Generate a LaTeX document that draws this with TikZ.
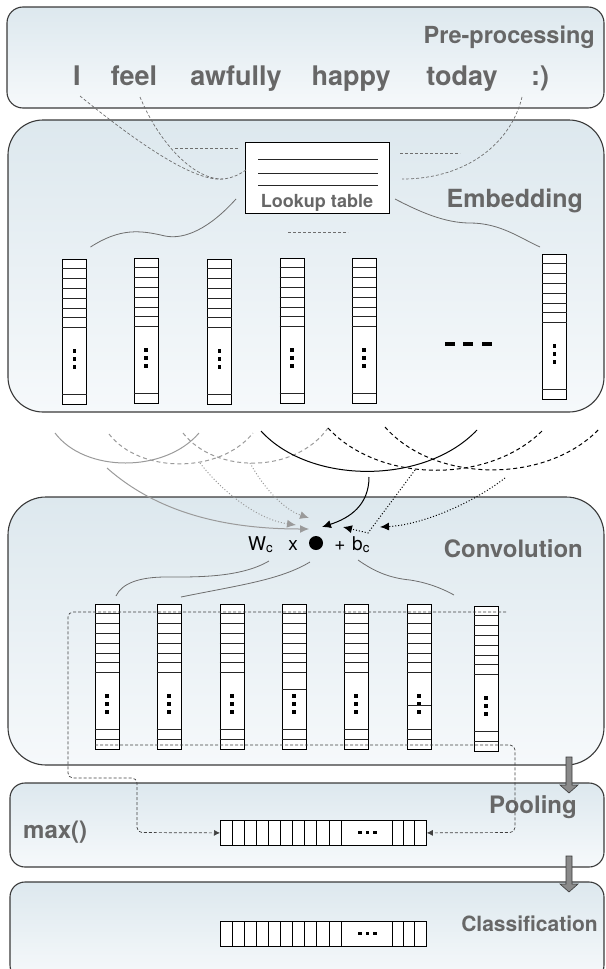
\documentclass[tikz,border=0pt]{standalone}
\usepackage{fontspec}
\setmainfont{TeX Gyre Heros}
\usetikzlibrary{arrows.meta}

\definecolor{boxline}{HTML}{3A3A3A}
\definecolor{paneltop}{HTML}{DDE8EE}
\definecolor{panelbot}{HTML}{F6F9FB}
\definecolor{labelgrey}{HTML}{676767}
\definecolor{curvegrey}{HTML}{6E6E6E}
\definecolor{arcgrey}{HTML}{9A9A9A}
\definecolor{blockgrey}{HTML}{8A8A8A}

\tikzset{
  panel/.style={draw=boxline, line width=1.1pt, top color=paneltop, bottom color=panelbot},
  title/.style={font=\bfseries\fontsize{24}{28}\selectfont, text=labelgrey, inner sep=0pt},
  word/.style={font=\bfseries\fontsize{27}{31}\selectfont, text=labelgrey, inner sep=0pt, anchor=base},
  formula/.style={font=\fontsize{19}{22}\selectfont, text=black, inner sep=0pt},
  colbox/.style={draw=black, fill=white, line width=0.8pt, minimum width=24pt, inner sep=0pt},
  cellline/.style={line width=0.8pt, draw=black!85},
  lookdash/.style={draw=curvegrey, line width=0.7pt, dash pattern=on 3pt off 2pt},
  softcurve/.style={draw=curvegrey, line width=0.8pt},
  greyarc/.style={draw=arcgrey, line width=1pt},
  greyarcdash/.style={draw=arcgrey, line width=1pt, dash pattern=on 4pt off 3pt},
  blackarc/.style={draw=black, line width=1pt},
  blackarcdash/.style={draw=black, line width=1pt, dash pattern=on 4pt off 3pt},
  greytip/.style={-{Latex[length=9pt,width=8pt]}, arcgrey},
  blacktip/.style={-{Latex[length=9pt,width=8pt]}, black},
  poolconn/.style={draw=black!75, line width=0.7pt, dash pattern=on 3pt off 2pt,
    rounded corners=5pt, -{Latex[length=6pt,width=6pt]}},
  blockarrow/.style={fill=blockgrey, draw=boxline, line width=0.6pt},
}

% one vector column: name, x centre, top y, height, number of bottom cells
\newcommand{\vectorcolumn}[5]{%
  \node[colbox, minimum height=#4pt, anchor=north] (#1) at (#2,#3) {};
  \foreach \o in {9,19,29,39,49,58,68}
    \draw[cellline] ([yshift=-\o pt]#1.north west) -- ([yshift=-\o pt]#1.north east);
  \foreach \b in {1,...,#5}
    \draw[cellline] ([yshift=\b*10pt]#1.south west) -- ([yshift=\b*10pt]#1.south east);
  \foreach \o in {92,100,108}
    \fill ([yshift=-\o pt]#1.north) ++(-1.7,-1.7) rectangle ++(3.4,3.4);
}

% horizontal feature vector with narrow cells and an ellipsis cell
\newcommand{\featurevector}[2]{% name, top y
  \node[draw=black, fill=white, line width=0.8pt, minimum width=206pt, minimum height=25pt,
        inner sep=0pt, anchor=north west] (#1) at (220,#2) {};
  \foreach \xx in {232.1,244.2,256.3,268.4,280.5,292.6,304.7,316.8,328.9,341,392,403.3,414.7}
    \draw[line width=0.8pt] (\xx,#2) -- (\xx,#2+25);
  \foreach \xx in {360,367.5,375}
    \fill (\xx,#2+12.5) ++(-1.7,-1.7) rectangle ++(3.4,3.4);
}

\begin{document}
\begin{tikzpicture}[x=1pt,y=-1pt]
\useasboundingbox (0,0) rectangle (605,969);
\clip (0,0) rectangle (605,969);

% ---------------- panels ----------------
\draw[panel, rounded corners=16pt] (7,7) rectangle (604,108);
\draw[panel, rounded corners=35pt] (8,120) rectangle (604,412);
\draw[panel, rounded corners=38pt] (8,497) rectangle (604,765);
\draw[panel, rounded corners=15pt] (10,783) rectangle (604,867);
\draw[panel, rounded corners=15pt] (10,882) rectangle (604,980);

% ---------------- pre-processing ----------------
\node[title, font=\bfseries\fontsize{23.5}{27}\selectfont, anchor=base east] (tPre) at (595,43) {Pre-processing};
\node[word] (wI) at (77,85) {I};
\node[word] (wFeel) at (134,85) {feel};
\node[word] (wAwf) at (236,85) {awfully};
\node[word] (wHappy) at (351,85) {happy};
\node[word] (wToday) at (462,85) {today};
\node[word] (wSmile) at (540,85) {:)};

% ---------------- embedding ----------------
\node[title, font=\bfseries\fontsize{25}{29}\selectfont, anchor=base east] (tEmb) at (583,207) {Embedding};

\node[draw=black, fill=white, line width=0.8pt, minimum width=144pt, minimum height=71pt,
      inner sep=0pt, anchor=north west] (lut) at (245,142) {};
\foreach \yy in {159,173,185}
  \draw[line width=1pt, black!85] (258,\yy) -- (378,\yy);
\node[font=\bfseries\fontsize{18}{21}\selectfont, text=labelgrey, inner sep=0pt, anchor=base]
  (lutText) at (317,207) {Lookup table};

\coordinate (iStart) at (80,96);
\coordinate (feelStart) at (140,97);
\coordinate (smileStart) at (522,97);
\coordinate (lutIn) at (246,170);
\coordinate (lutInR) at (402,179);
\coordinate (merge) at (223,179);

\draw[lookdash] (iStart) .. controls (140,145) and (195,182) .. (merge)
  .. controls (233,178) and (240,174) .. (lutIn);
\draw[lookdash] (feelStart) .. controls (160,145) and (195,180) .. (merge);
\draw[lookdash] (smileStart) .. controls (512,140) and (470,179) .. (lutInR);
\draw[lookdash] (175,148) -- (238,148);
\draw[lookdash] (400,153) -- (460,153);
\draw[lookdash] (288,232) -- (348,232);

\vectorcolumn{e1}{74.5}{259}{145}{1}
\vectorcolumn{e2}{146}{258}{145}{1}
\vectorcolumn{e3}{219.5}{259}{145}{1}
\vectorcolumn{e4}{292}{258}{145}{1}
\vectorcolumn{e5}{364}{258}{145}{1}
\vectorcolumn{e6}{554.5}{254}{145}{1}

\draw[softcurve] (236,199) .. controls (210,228) and (185,240) .. (165,236)
  .. controls (140,230) and (120,228) .. ([xshift=16pt,yshift=12pt]e1.north);
\draw[softcurve] (395,199) .. controls (420,212) and (445,223) .. (470,223)
  .. controls (500,223) and (520,238) .. ([xshift=-14.5pt,yshift=7pt]e6.north);

\foreach \xx in {445,463,482}
  \draw[line width=3.6pt] (\xx,344) -- ++(10,0);

% ---------------- sliding windows ----------------
\coordinate (aL) at (55,433);   \coordinate (aR) at (199,433);
\coordinate (bL) at (109,434);  \coordinate (bR) at (253,433);
\coordinate (cL) at (183,433);  \coordinate (cR) at (328,428);
\coordinate (dL) at (261,431);  \coordinate (dR) at (477,430);
\coordinate (fL) at (385,427);  \coordinate (fR) at (600,428);
\coordinate (gR) at (543,430);

\draw[greyarc] (aL) .. controls (85,473) and (165,473) .. (aR);
\draw[greyarcdash] (bL) .. controls (140,474) and (220,474) .. (bR);
\draw[greyarcdash] (cL) .. controls (215,474) and (295,474) .. (cR);
\draw[blackarc] (dL) .. controls (310,485) and (425,485) .. (dR);
\draw[blackarcdash] (cR) .. controls (380,484) and (490,484) .. (gR);
\draw[blackarcdash] (fL) .. controls (435,484) and (548,484) .. (fR);

% ---------------- convolution ----------------
\node[title, anchor=base east] (tConv) at (583,557) {Convolution};

\node[formula, anchor=base west] (wc) at (248,550) {W\textsubscript{c}};
\node[formula, anchor=base] (times) at (293,550) {x};
\node[circle, fill=black, minimum size=14pt, inner sep=0pt] (dot) at (316,543) {};
\node[formula, anchor=base] (plus) at (340,550) {+};
\node[formula, anchor=base west] (bc) at (352,550) {b\textsubscript{c}};

\coordinate (g1s) at (107,468);  \coordinate (g1e) at (309,529);
\coordinate (g2s) at (200,463);  \coordinate (g2e) at (296,525);
\coordinate (g3s) at (250,463);  \coordinate (g3e) at (309,518);
\coordinate (k1s) at (369,477);  \coordinate (k1e) at (322,527);
\coordinate (k2s) at (415,470);  \coordinate (k2m) at (368,533);  \coordinate (k2e) at (343,527);
\coordinate (k3s) at (505,478);  \coordinate (k3e) at (380,527);

\draw[greyarc, greytip] (g1s) .. controls (160,515) and (230,529) .. (g1e);
\draw[arcgrey, line width=1pt, dotted, greytip] (g2s) .. controls (225,495) and (260,520) .. (g2e);
\draw[arcgrey, line width=1pt, dotted, greytip] (g3s) .. controls (265,490) and (285,510) .. (g3e);
\draw[blackarc, blacktip] (k1s) .. controls (369,505) and (350,518) .. (k1e);
\draw[black, line width=1pt, dotted, blacktip] (k2s) -- (k2m) -- (k2e);
\draw[black, line width=1pt, dotted, blacktip] (k3s) .. controls (470,505) and (420,525) .. (k3e);

\vectorcolumn{c1}{107}{604}{145}{2}
\vectorcolumn{c2}{169}{604}{145}{2}
\vectorcolumn{c3}{232}{604}{145}{2}
\vectorcolumn{c4}{294}{604}{145}{2}
\vectorcolumn{c5}{356}{604}{145}{2}
\vectorcolumn{c6}{419}{604}{145}{2}
\vectorcolumn{c7}{486}{606}{145}{2}
\draw[cellline] ([yshift=-85pt]c4.north west) -- ([yshift=-85pt]c4.north east);
\draw[cellline] ([yshift=-101pt]c6.north west) -- ([yshift=-101pt]c6.north east);

\draw[softcurve] ([xshift=9pt,yshift=8pt]c1.north) .. controls (122,583) and (140,577) .. (166,577)
  .. controls (195,577) and (240,578) .. (269,561);
\draw[softcurve] (310,562) .. controls (280,580) and (240,585) .. ([xshift=12pt,yshift=7pt]c2.north);
\draw[softcurve] (358,560) .. controls (375,572) and (390,578) .. (410,580)
  .. controls (430,583) and (445,590) .. (454,595);

% ---------------- pooling ----------------
\node[title, anchor=base east] (tPool) at (577,813) {Pooling};
\node[title, anchor=base west] (tMax) at (23,838) {max()};
\featurevector{pool}{820}

\coordinate (topR) at (506,612);
\coordinate (topL) at (68,612);
\coordinate (leftLow) at (68,778);
\coordinate (stepR) at (137,778);
\coordinate (stepLow) at (137,832.5);
\coordinate (botL) at (95,745);
\coordinate (botR) at (515,745);
\coordinate (rightLow) at (515,832.5);

\draw[poolconn] (topR) -- (topL) -- (leftLow) -- (stepR) -- (stepLow) -- (pool.west);
\draw[poolconn] (botL) -- (botR) -- (rightLow) -- (pool.east);

% ---------------- classification ----------------
\node[title, font=\bfseries\fontsize{21}{25}\selectfont, anchor=base east] (tClass) at (598,931) {Classification};
\featurevector{cls}{921}

% ---------------- stage arrows ----------------
\draw[blockarrow] (566,757) -- (572,757) -- (572,785) -- (578,785) -- (569,793)
  -- (560,785) -- (566,785) -- cycle;
\draw[blockarrow] (566,856) -- (572,856) -- (572,884) -- (578,884) -- (569,892)
  -- (560,884) -- (566,884) -- cycle;

\end{tikzpicture}
\end{document}
